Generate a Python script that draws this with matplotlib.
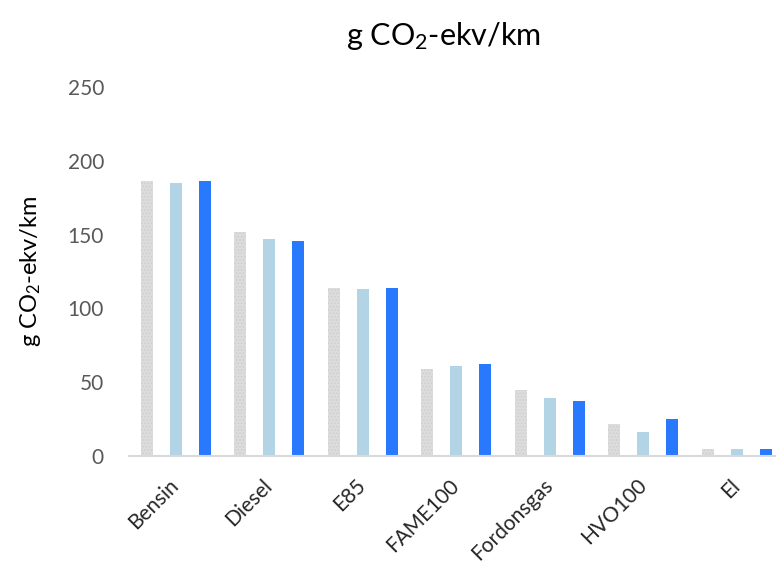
import numpy as np
import matplotlib
matplotlib.use('Agg')
import matplotlib.pyplot as plt

plt.rcParams['font.family'] = ['Lato', 'DejaVu Sans']
plt.rcParams['mathtext.fontset'] = 'custom'
plt.rcParams['mathtext.rm'] = 'Lato'
plt.rcParams['mathtext.default'] = 'rm'
plt.rcParams['hatch.linewidth'] = 0.6

fuels = ['Bensin', 'Diesel', 'E85', 'FAME100', 'Fordonsgas', 'HVO100', 'El']
serie1 = [186, 152, 114, 59, 45, 22, 5]   # grey
serie2 = [185, 147, 113, 61, 39, 16, 5]   # light blue
serie3 = [186, 146, 114, 62, 37, 25, 5]   # blue
yticks = [0, 50, 100, 150, 200, 250]

fig = plt.figure(figsize=(7.76, 5.65), dpi=100)
ax = fig.add_axes([0.1662, 0.1929, 0.8434, 0.6531])

x = np.arange(len(fuels))
w = 0.125
off = 0.31
ax.bar(x - off, serie1, w, color='#dcdcdc', edgecolor='#cdcdcd', hatch='.....', linewidth=0)
ax.bar(x, serie2, w, color='#b2d4e5', linewidth=0)
ax.bar(x + off, serie3, w, color='#2979ff', linewidth=0)

ax.set_xlim(-0.5, len(fuels) - 0.5)
ax.set_ylim(0, 250)
ax.set_yticks(yticks)
ax.set_xticks(x)
ax.set_xticklabels(fuels, rotation=45, ha='right', va='center', rotation_mode='anchor')
ax.tick_params(axis='both', length=0, labelsize=15, colors='#595959')
ax.tick_params(axis='x', pad=19)
ax.tick_params(axis='y', pad=18)
for lab in ax.get_xticklabels():
    lab.set_color('#262626')

for s in ['top', 'right', 'left']:
    ax.spines[s].set_visible(False)
ax.spines['bottom'].set_color('#d9d9d9')
ax.spines['bottom'].set_linewidth(1.5)

ax.set_ylabel(r'g CO$_2$-ekv/km', fontsize=17, color='black', labelpad=18)
fig.text(0.571, 0.937, r'g CO$_2$-ekv/km', fontsize=22, ha='center', va='center', color='black')

fig.savefig('out.png', dpi=100)
